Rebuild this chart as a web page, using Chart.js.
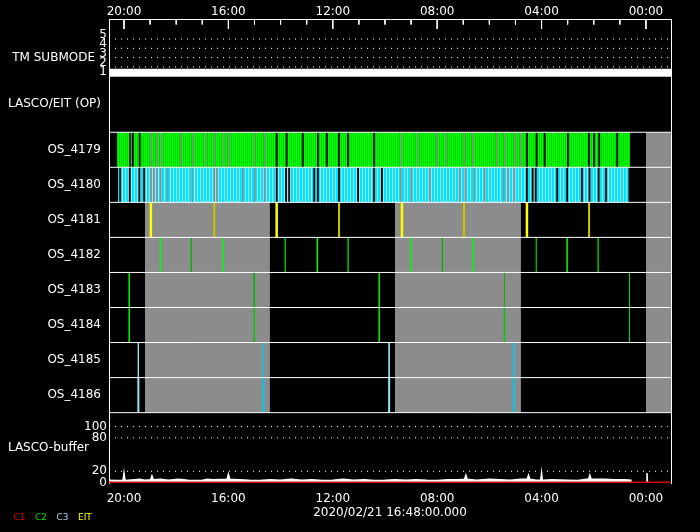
<!DOCTYPE html>
<html>
<head>
<meta charset="utf-8">
<script src="https://cdn.jsdelivr.net/npm/chart.js@4.4.0/dist/chart.umd.min.js"></script>
<style>
  html, body { margin: 0; background: #000; }
  canvas { display: block; }
</style>
</head>
<body>
<canvas id="chart" width="700" height="532"></canvas>
<script>
// time axis in hours, runs backwards (20:00 on the left, 00:00 on the right)
const hourLabels = [20, 16, 12, 8, 4, 0];
const hourMinor = [19, 18, 17, 15, 14, 13, 11, 10, 9, 7, 6, 5, 3, 2, 1];
const xLeft = 20.575, xRight = -0.96;
const dateLabel = '2020/02/21 16:48:00.000';

const rowNames = ['OS_4179', 'OS_4180', 'OS_4181', 'OS_4182', 'OS_4183', 'OS_4184', 'OS_4185', 'OS_4186'];

// TM submode panel
const tmLevels = [1, 2, 3, 4, 5];
const tmHours = [xLeft, xRight];
const tmSubmode = [1, 1];

// no-data periods (gray)
const grayLowerRows = [[19.2, 14.41], [9.62, 4.79]];
const grayAllRows = [[0.0, xRight]];

// OS_4179 (C2) and OS_4180 (C3) coverage and gaps
const os4179Span = [20.27, 0.61];
const os4179GrayGaps = [18.97, 18.74, 18.56, 17.83, 17.37, 16.87, 16.54, 16.18, 15.97, 15.02, 14.60,
  9.37, 8.74, 8.02, 7.66, 6.96, 6.63, 5.72, 5.40, 5.02, 4.80];
const os4179BlackGaps = [19.77, 19.66, 19.40, 14.15, 13.77, 13.15, 12.57, 12.23, 11.76, 11.42, 10.42,
  4.56, 4.19, 3.88, 2.99, 2.18, 1.99, 1.79, 1.10];
const os4180Span = [20.23, 0.66];
const os4180GrayGaps = [18.97, 18.86, 18.74, 18.59, 18.33, 17.39, 16.54, 16.43, 15.45, 14.99, 14.61,
  9.39, 9.00, 8.28, 7.14, 6.92, 6.59, 6.18, 5.45, 5.29, 5.05];
const os4180BlackGaps = [20.15, 19.78, 19.41, 19.23, 14.15, 13.79, 13.67, 12.71, 12.57, 11.76, 11.03,
  10.42, 10.12, 4.56, 4.34, 4.22, 3.40, 3.02, 2.45, 2.16, 1.81, 1.53];

// single images
const os4181Bright = [18.97, 14.15, 9.35, 4.56];
const os4181Dark = [16.54, 11.76, 6.97, 2.18];
const os4182Bright = [18.60, 16.20, 12.59, 9.00, 6.62, 3.02];
const os4182Dark = [17.42, 13.82, 11.41, 7.80, 4.20, 1.83];
const os4183Bright = [19.80, 10.22, 0.63];
const os4183Dark = [15.01, 5.42];
const os4184Bright = [19.80, 10.22, 0.63];
const os4184Dark = [15.01, 5.42];
const os4185Light = [19.45, 9.84];
const os4185Cyan = [14.66, 5.06];
const os4186Light = [19.45, 9.84];
const os4186Cyan = [14.66, 5.06];

// LASCO buffer
const bufferTicks = [0, 20, 80, 100];
const bufferDots = [20, 80, 100];
const bufferHours = [20.575, 20.30, 20.04, 20.00, 19.96, 19.60, 19.40, 19.20, 18.98, 18.93, 18.88, 18.60,
  18.30, 17.90, 17.70, 17.50, 17.00, 16.80, 16.60, 16.05, 16.00, 15.95, 15.60, 15.20, 14.80, 14.40, 14.00,
  13.60, 13.20, 12.80, 12.40, 12.00, 11.60, 11.20, 10.80, 10.40, 10.00, 9.60, 9.20, 8.80, 8.40, 8.00, 7.60,
  7.20, 6.95, 6.90, 6.85, 6.50, 6.00, 5.60, 5.20, 4.80, 4.55, 4.50, 4.45, 4.20, 4.03, 4.00, 3.97, 3.60,
  3.00, 2.60, 2.30, 2.20, 2.15, 2.10, 1.60, 1.20, 0.80, 0.58, 0.57, 0.30, -0.02, -0.04, -0.06];
const bufferTotal = [4, 3.5, 3.5, 17, 3.5, 5, 6, 4, 5, 12, 5, 6,
  4, 6, 5, 3.5, 4, 6, 5, 6, 15, 6, 5, 4, 3.5, 5, 4,
  6, 4, 5, 3.5, 4, 6, 4, 5, 3.5, 4, 5, 4, 5, 4, 3.5, 5,
  5, 6, 13, 6, 4, 6, 5, 4, 6, 6, 13, 6, 4, 4, 17, 4, 5,
  4, 3.5, 6, 6, 13, 6, 6, 5, 5, 4, 0, null, 0, 17, 0];
const bufferC1Hours = [xLeft, xRight];
const bufferC1 = [0, 0];

const legendNames = ['C1', 'C2', 'C3', 'EIT'];
const legendColors = ['#e00000', '#00e000', '#a0d8e8', '#ffff00'];

// vertical layout (units = pixels below the top axis)
const ROW_TOP = 113.5, ROW_H = 35.125;
const rowTop = i => ROW_TOP + i * ROW_H;
const tmY = lvl => 57.3 - (lvl - 1) * 9.3;
const bufY = v => 464.5 - 0.56 * v;

function stripes(colors) {
  const c = document.createElement('canvas');
  c.width = colors.length; c.height = 1;
  const g = c.getContext('2d');
  colors.forEach((col, i) => { g.fillStyle = col; g.fillRect(i, 0, 1, 1); });
  return g.createPattern(c, 'repeat');
}
const greenFill = stripes(['#00ff00', '#00d400']);
const cyanFill = stripes(['#00e4ff', '#00e4ff', '#a0e4f0']);

function vLines(hours, top, bottom) {
  const pts = [];
  hours.forEach(h => pts.push({x: h, y: top}, {x: h, y: bottom}, {x: h, y: null}));
  return pts;
}
function hLines(ys) {
  const pts = [];
  ys.forEach(y => pts.push({x: xLeft, y: y}, {x: xRight, y: y}, {x: xRight, y: null}));
  return pts;
}
function lineSet(data, color, width, order, extra) {
  return Object.assign({data: data, borderColor: color, borderWidth: width, pointRadius: 0,
    fill: false, spanGaps: false, order: order}, extra || {});
}
function areaSet(periods, top, bottom, color, order) {
  const pts = [];
  periods.forEach(p => pts.push({x: p[0], y: top}, {x: p[1], y: top}, {x: p[1], y: null}));
  return {data: pts, borderWidth: 0, borderColor: 'rgba(0,0,0,0)', backgroundColor: color,
    fill: {value: bottom}, pointRadius: 0, spanGaps: false, order: order};
}
const rowLines = (hours, row, color, width, order) =>
  lineSet(vLines(hours, rowTop(row), rowTop(row + 1)), color, width, order);

const GRAY = '#8c8c8c';
const datasets = [
  areaSet(grayLowerRows, rowTop(2), rowTop(8), GRAY, 20),
  areaSet(grayAllRows, rowTop(0), rowTop(8), GRAY, 20),
  areaSet([os4179Span], rowTop(0), rowTop(1), greenFill, 19),
  areaSet([os4180Span], rowTop(1), rowTop(2), cyanFill, 19),
  rowLines(os4179GrayGaps, 0, GRAY, 1.5, 18),
  rowLines(os4179BlackGaps, 0, '#000', 1.8, 18),
  rowLines(os4180GrayGaps, 1, GRAY, 1.5, 18),
  rowLines(os4180BlackGaps, 1, '#000', 1.8, 18),
  rowLines(os4181Bright, 2, '#ffff00', 2.5, 17),
  rowLines(os4181Dark, 2, '#c8c800', 2, 17),
  rowLines(os4182Bright, 3, '#00ff00', 1.5, 17),
  rowLines(os4182Dark, 3, '#00b400', 1, 17),
  rowLines(os4183Bright, 4, '#00e600', 1, 17),
  rowLines(os4183Dark, 4, '#00b400', 1, 17),
  rowLines(os4184Bright, 5, '#00e600', 1, 17),
  rowLines(os4184Dark, 5, '#00c800', 1.5, 17),
  rowLines(os4185Light, 6, '#90e4f0', 1, 17),
  rowLines(os4185Cyan, 6, '#00c8f0', 1, 17),
  rowLines(os4186Light, 7, '#90e4f0', 2, 17),
  rowLines(os4186Cyan, 7, '#00c8f0', 2, 17),
  lineSet(hLines([0, 1, 2, 3, 4, 5, 6, 7, 8].map(rowTop)), '#ffffff', 1, 10),
  lineSet(hLines(tmLevels.slice(1).map(tmY).concat(bufferDots.map(bufY))), '#ffffff', 1, 10,
    {borderDash: [1, 5]}),
  lineSet(tmHours.map((h, i) => ({x: h, y: tmY(tmSubmode[i]) - 3.5})), '#ffffff', 8, 4),
  lineSet(bufferHours.map((h, i) => ({x: h, y: bufferTotal[i] === null ? null : bufY(bufferTotal[i])})),
    '#ffffff', 1.5, 6, {fill: {value: bufY(0)}, backgroundColor: '#ffffff'}),
  lineSet(bufferC1Hours.map((h, i) => ({x: h, y: bufY(bufferC1[i])})), '#e00000', 2, 3),
  lineSet(vLines(hourLabels, 0, 10), '#ffffff', 1, 2),
  lineSet(vLines(hourMinor, 0, 5.5), '#ffffff', 1, 2)
];

// left axis labels: panel names (pushed left with en spaces) and the numeric scales
const SP = '\u2002';
const yTicks = [{pos: 39, text: 'TM SUBMODE' + SP + SP}, {pos: 85.5, text: 'LASCO/EIT (OP)' + SP}]
  .concat(rowNames.map((n, i) => ({pos: rowTop(i) + ROW_H / 2, text: n + SP})))
  .concat([{pos: 430, text: 'LASCO-buffer' + SP + SP + SP}])
  .concat(tmLevels.map(l => ({pos: tmY(l) - 4, text: String(l)})))
  .concat(bufferTicks.map(v => ({pos: bufY(v), text: String(v)})));

const hh = v => String(v).padStart(2, '0') + ':00';

Chart.defaults.font.family = 'DejaVu Sans';
Chart.defaults.font.size = 12;
Chart.defaults.color = '#ffffff';

new Chart(document.getElementById('chart'), {
  type: 'line',
  data: {datasets: datasets},
  options: {
    responsive: false,
    animation: false,
    devicePixelRatio: 1,
    events: [],
    layout: {padding: {left: 4, right: 29, top: 0, bottom: 0}},
    plugins: {
      tooltip: {enabled: false},
      legend: {
        position: 'bottom',
        align: 'start',
        onClick: null,
        labels: {
          boxWidth: 0,
          padding: 5,
          font: {size: 9},
          generateLabels: () => legendNames.map((t, i) => ({
            text: t, fontColor: legendColors[i], fillStyle: 'rgba(0,0,0,0)',
            strokeStyle: 'rgba(0,0,0,0)', lineWidth: 0, hidden: false
          }))
        }
      }
    },
    scales: {
      x: {
        type: 'linear', position: 'top', min: xRight, max: xLeft, reverse: true,
        grid: {display: false, drawTicks: false},
        border: {display: true, color: '#ffffff', width: 1},
        ticks: {padding: 0, maxRotation: 0, autoSkip: false, callback: v => hh(v)},
        afterBuildTicks: s => { s.ticks = hourLabels.map(v => ({value: v})); },
        afterFit: s => { s.height = 19; }
      },
      x2: {
        type: 'linear', position: 'bottom', min: xRight, max: xLeft, reverse: true,
        grid: {display: false, drawTicks: false},
        border: {display: false},
        ticks: {padding: 9, maxRotation: 0, autoSkip: false, callback: v => hh(v)},
        title: {display: true, text: dateLabel, color: '#ffffff', font: {size: 12},
          padding: {top: 0, bottom: -12}},
        afterBuildTicks: s => { s.ticks = hourLabels.map(v => ({value: v})); },
        afterFit: s => { s.height = 25; }
      },
      y: {
        type: 'linear', position: 'left', min: 0, max: 465, reverse: true,
        grid: {display: false, drawTicks: false},
        border: {display: true, color: '#ffffff', width: 1},
        ticks: {padding: 2, autoSkip: false, callback: (v, i) => yTicks[i].text},
        afterBuildTicks: s => { s.ticks = yTicks.map(t => ({value: t.pos})); },
        afterFit: s => { s.width = 105; }
      },
      yRight: {
        type: 'linear', position: 'right', min: 0, max: 465, reverse: true,
        grid: {display: false, drawTicks: false},
        border: {display: true, color: '#ffffff', width: 1},
        ticks: {display: false},
        afterFit: s => { s.width = 0; }
      }
    }
  }
});
</script>
</body>
</html>
